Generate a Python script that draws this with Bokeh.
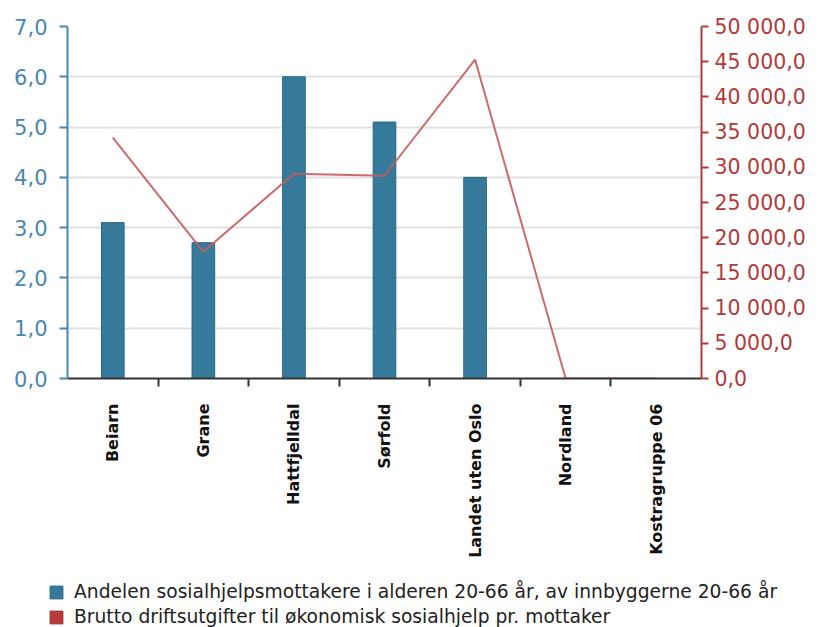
import math
from bokeh.plotting import figure
from bokeh.models import (Range1d, LinearAxis, FixedTicker, CustomJSTickFormatter,
                          Legend, LegendItem, ColumnDataSource)
from bokeh.embed import file_html
from bokeh.resources import INLINE

# ---- data ----
categories = ["Beiarn", "Grane", "Hattfjelldal", "Sørfold",
              "Landet uten Oslo", "Nordland", "Kostragruppe 06"]
andel = [3.1, 2.7, 6.0, 5.1, 4.0, 0.0, 0.0]
utgifter = [34200, 18000, 29100, 28800, 45300, 0, 0]
left_ticks = [0, 1, 2, 3, 4, 5, 6, 7]
right_ticks = [0, 5000, 10000, 15000, 20000, 25000, 30000, 35000, 40000, 45000, 50000]
series_names = ["Andelen sosialhjelpsmottakere i alderen 20-66 år, av innbyggerne 20-66 år",
                "Brutto driftsutgifter til økonomisk sosialhjelp pr. mottaker"]

xs = list(range(1, len(categories) + 1))
src = ColumnDataSource(dict(x=xs, andel=andel, utgifter=utgifter))

BLUE = "#357a9a"
BLUE_AX = "#4a87b0"
RED_AX = "#b03a3a"
RED_SW = "#b83b3b"
FONT = "DejaVu Sans"

p = figure(frame_width=634, frame_height=352,
           min_border_left=67, min_border_right=117, min_border_top=26, min_border_bottom=199,
           x_range=Range1d(0.5, len(categories) + 0.5),
           y_range=Range1d(left_ticks[0], left_ticks[-1]),
           output_backend="svg", toolbar_location=None)
p.extra_y_ranges = {"right": Range1d(right_ticks[0], right_ticks[-1])}
p.outline_line_color = None
p.background_fill_color = "white"
p.border_fill_color = "white"

# grid
p.xgrid.visible = False
p.ygrid.ticker = FixedTicker(ticks=left_ticks)
p.ygrid.grid_line_color = "#e2e2e2"
p.ygrid.grid_line_width = 2

# x axis
xa = p.xaxis[0]
xa.ticker = FixedTicker(ticks=xs, minor_ticks=[x + 0.5 for x in xs[:-1]])
xa.major_label_overrides = {x: c for x, c in zip(xs, categories)}
xa.major_label_orientation = math.pi / 2
xa.major_tick_out = 0
xa.major_tick_in = 0
xa.minor_tick_out = 8
xa.minor_tick_in = 0
xa.minor_tick_line_color = "#333333"
xa.minor_tick_line_width = 2
xa.axis_line_color = "#333333"
xa.axis_line_width = 2
xa.major_label_standoff = 17
xa.major_label_text_font = FONT
xa.major_label_text_font_style = "bold"
xa.major_label_text_font_size = "16px"
xa.major_label_text_color = "#111111"

# left axis
ya = p.yaxis[0]
ya.ticker = FixedTicker(ticks=left_ticks)
ya.formatter = CustomJSTickFormatter(code="return tick.toFixed(1).replace('.', ',');")
ya.axis_line_color = BLUE_AX
ya.axis_line_width = 2
ya.major_tick_line_color = BLUE_AX
ya.major_tick_line_width = 2
ya.major_tick_out = 8
ya.major_tick_in = 0
ya.minor_tick_line_color = None
ya.major_label_standoff = 12
ya.major_label_text_font = FONT
ya.major_label_text_font_size = "21px"
ya.major_label_text_color = BLUE_AX

# right axis
ra = LinearAxis(y_range_name="right")
ra.ticker = FixedTicker(ticks=right_ticks)
ra.formatter = CustomJSTickFormatter(code="""
const s = tick.toFixed(1).split('.');
const ip = s[0].replace(/\\B(?=(\\d{3})+(?!\\d))/g, ' ');
return ip + ',' + s[1];
""")
ra.axis_line_color = RED_AX
ra.axis_line_width = 2
ra.major_tick_line_color = RED_AX
ra.major_tick_line_width = 2
ra.major_tick_out = 7
ra.major_tick_in = 0
ra.minor_tick_line_color = None
ra.major_label_standoff = 6
ra.major_label_text_font = FONT
ra.major_label_text_font_size = "20.5px"
ra.major_label_text_color = RED_AX
p.add_layout(ra, "right")

# glyphs
p.vbar(x="x", top="andel", width=0.25, source=src,
       fill_color=BLUE, line_color="#2a6682", line_width=1)
p.line(x="x", y="utgifter", source=src, y_range_name="right",
       line_color="#c45c5c", line_width=2, line_alpha=0.9)

# ---- legend strip: a second root below the chart ----
# its view range lies left of the data, so its swatch renderers only feed the legend
lg = figure(width=818, height=50, min_border=0,
            x_range=Range1d(-2, -1), y_range=Range1d(0, 1),
            x_axis_location=None, y_axis_location=None,
            output_backend="svg", toolbar_location=None)
lg.grid.visible = False
lg.outline_line_color = None
lg.background_fill_color = "white"
lg.border_fill_color = "white"
sw1 = lg.vbar(x="x", top="andel", width=0.25, source=src,
              fill_color=BLUE, line_color="#2a6682")
sw2 = lg.vbar(x="x", top="andel", width=0.25, source=src,
              fill_color=RED_SW, line_color="#9e2f2f")
legend = Legend(items=[LegendItem(label=series_names[0], renderers=[sw1]),
                       LegendItem(label=series_names[1], renderers=[sw2])],
                location=(48, 0))
legend.label_text_font = FONT
legend.label_text_font_size = "18.7px"
legend.label_text_color = "#222222"
legend.glyph_width = 16
legend.glyph_height = 16
legend.label_standoff = 10
legend.spacing = 4
legend.padding = 0
legend.margin = 0
legend.border_line_color = None
legend.background_fill_alpha = 0
lg.add_layout(legend)

open("out.html", "w").write(file_html([p, lg], INLINE))
